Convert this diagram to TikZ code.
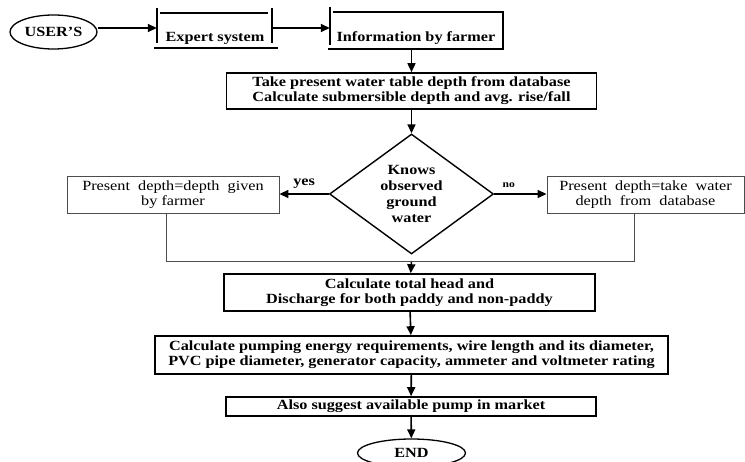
\documentclass[tikz,border=0pt]{standalone}
\usepackage{fontspec}
\setmainfont[FakeStretch=1.16]{Liberation Serif}
\usetikzlibrary{shapes.geometric,arrows.meta}
\tikzset{
  proc/.style={draw,line width=1.6pt,align=center,inner sep=0pt,
    font=\bfseries\fontsize{14}{15}\selectfont},
  side/.style={draw=black!70,line width=0.9pt,align=center,inner sep=0pt,
    font=\fontsize{14}{15}\selectfont},
  term/.style={ellipse,draw,line width=1.3pt,inner sep=0pt,
    font=\bfseries\fontsize{14}{15}\selectfont},
  frame/.style={inner sep=0pt},
  txt/.style={inner sep=0pt,font=\bfseries\fontsize{14}{15}\selectfont},
  flow/.style={line width=1.6pt,-{Triangle[length=9pt,width=8pt]}},
  thinline/.style={draw=black!70,line width=0.9pt},
}
\begin{document}
\begin{tikzpicture}[x=1pt,y=-1pt]
  \useasboundingbox (0,0) rectangle (745,462);
  \draw
    (53.5,32) node[term,minimum width=87pt,minimum height=34pt] (user){USER'S}
    (214.5,28) node[frame,minimum width=115pt,minimum height=40pt] (expert){}
    (215,38) node[txt] (experttxt){Expert system}
    (416.5,28) node[frame,minimum width=173pt,minimum height=42pt] (info){}
    (416,38) node[txt] (infotxt){Information by farmer}
    (411.5,91) node[proc,minimum width=370pt,minimum height=36pt] (take)
      {Take present water table depth from database\\
       Calculate submersible depth and avg. rise/fall}
    (411.5,194) node[diamond,draw,line width=1.4pt,inner sep=0pt,
      minimum width=164pt,minimum height=120pt,align=center,
      font=\bfseries\fontsize{14}{16}\selectfont] (know)
      {Knows\\observed\\ground\\water}
    (173,195) node[side,minimum width=212pt,minimum height=37pt] (left)
      {Present\ \ depth=depth\ \ given\\by farmer}
    (645.5,195) node[side,minimum width=197pt,minimum height=37pt] (right)
      {Present\ \ depth=take\ \ water\\depth\ \ from\ \ database}
    (409.5,292.5) node[proc,minimum width=371pt,minimum height=37pt] (head)
      {Calculate total head and\\
       Discharge for both paddy and non-paddy}
    (411.5,355) node[proc,minimum width=513pt,minimum height=38pt] (pump)
      {Calculate pumping energy requirements, wire length and its diameter,\\
       PVC pipe diameter, generator capacity, ammeter and voltmeter rating}
    (411,406.5) node[proc,minimum width=370pt,minimum height=19pt] (suggest)
      {Also suggest available pump in market}
    (411.5,453) node[term,minimum width=108pt,minimum height=28pt] (end){END};
  \coordinate (jl) at (166,261);
  \coordinate (jr) at (634,261);
  \coordinate (join) at (411.5,261);
  % open frames of the first two steps
  \begin{scope}[line width=1.6pt]
    \draw (expert.north west) -- ([shift={(0,-5)}]expert.south west);
    \draw (expert.north east) -- ([shift={(0,-5)}]expert.south east);
    \draw ([shift={(3,5)}]expert.north west) -- ([shift={(-4,5)}]expert.north east);
    \draw ([shift={(-3,0)}]expert.south west) -- ([shift={(6,0)}]expert.south east);
    \draw (info.north west) -- ([shift={(0,-4)}]info.south west);
    \draw ([shift={(3,5)}]info.north west) -- ([shift={(0,5)}]info.north east)
      -- (info.south east) -- ([shift={(-2,0)}]info.south west);
  \end{scope}
  \begin{scope}[flow]
    \draw (user.east |- expert.west) -- (expert.west);
    \draw (expert.east) -- (info.west);
    \draw (info.south -| take.north) -- (take.north);
    \draw (take) -- (know);
    \draw (know.west) -- (left.east |- know.west)
      node[midway,above=1pt,font=\bfseries\fontsize{14}{14}\selectfont] (yes){yes};
    \draw (know.east) -- (right.west |- know.east)
      node[pos=0.28,above=2pt,font=\bfseries\fontsize{10}{10}\selectfont] (no){no};
    \draw (join) -- (head);
    \draw (head) -- (pump);
    \draw (pump) -- (suggest);
    \draw (suggest) -- (end);
  \end{scope}
  \draw[thinline] (left.south -| jl) -- (jl) -- (jr) -- (right.south -| jr);
\end{tikzpicture}
\end{document}
